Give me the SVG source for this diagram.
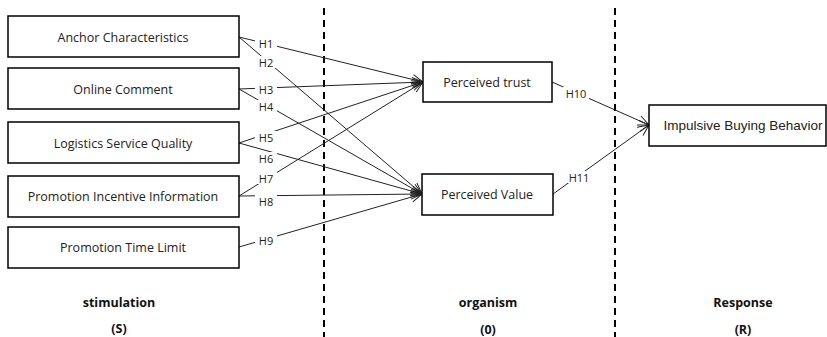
<svg xmlns="http://www.w3.org/2000/svg" width="827" height="337" viewBox="0 0 827 337">
<style>
.box{fill:#fff;stroke:#000;stroke-width:1.5}
.t{font-family:"Open Sans","Liberation Sans",sans-serif;font-size:12.5px;fill:#222;text-anchor:middle;dominant-baseline:central}
.ta{font-family:"Liberation Sans",Arial,sans-serif;font-size:13.5px;fill:#222;text-anchor:middle;dominant-baseline:central}
.h{font-family:"Open Sans","Liberation Sans",sans-serif;font-size:11px;fill:#222;text-anchor:middle;dominant-baseline:central}
.b{font-family:"Open Sans","Liberation Sans",sans-serif;font-size:12.5px;font-weight:bold;fill:#111;text-anchor:middle;dominant-baseline:central}
.c{stroke:#222;stroke-width:1;fill:none;marker-end:url(#arr)}
.d{stroke:#000;stroke-width:2;stroke-dasharray:7 5}
.lb{fill:#fff}
</style>
<defs>
<marker id="arr" markerUnits="userSpaceOnUse" markerWidth="14" markerHeight="14" refX="12" refY="7" orient="auto">
<path d="M1,2 L12,7 L1,12 M1,7 L12,7" fill="none" stroke="#222" stroke-width="1"/>
</marker>
</defs>
<g id="dividers">
<line class="d" x1="324" y1="8" x2="324" y2="337"/>
<line class="d" x1="615" y1="8" x2="615" y2="337"/>
</g>
<g id="connectors">
<line class="c" x1="239" y1="37" x2="423" y2="82"/>
<line class="c" x1="239" y1="37" x2="422" y2="194"/>
<line class="c" x1="239" y1="89" x2="423" y2="82"/>
<line class="c" x1="239" y1="89" x2="422" y2="194"/>
<line class="c" x1="239" y1="143" x2="423" y2="82"/>
<line class="c" x1="239" y1="143" x2="422" y2="194"/>
<line class="c" x1="239" y1="196" x2="423" y2="82"/>
<line class="c" x1="239" y1="196" x2="422" y2="194"/>
<line class="c" x1="239" y1="247" x2="422" y2="194"/>
<line class="c" x1="552" y1="82" x2="649" y2="125"/>
<line class="c" x1="553" y1="194" x2="649" y2="125"/>
<g id="labels">
<rect class="lb" x="255" y="37" width="22" height="12"/><text class="h" x="266" y="43">H1</text>
<rect class="lb" x="255" y="56" width="22" height="12"/><text class="h" x="266" y="62">H2</text>
<rect class="lb" x="255" y="83" width="22" height="12"/><text class="h" x="266" y="89">H3</text>
<rect class="lb" x="255" y="100" width="22" height="12"/><text class="h" x="266" y="106">H4</text>
<rect class="lb" x="255" y="131" width="22" height="12"/><text class="h" x="266" y="137">H5</text>
<rect class="lb" x="255" y="152" width="22" height="12"/><text class="h" x="266" y="158">H6</text>
<rect class="lb" x="255" y="172" width="22" height="12"/><text class="h" x="266" y="178">H7</text>
<rect class="lb" x="255" y="195" width="22" height="12"/><text class="h" x="266" y="201">H8</text>
<rect class="lb" x="255" y="234" width="22" height="12"/><text class="h" x="266" y="240">H9</text>
<rect class="lb" x="563" y="87" width="26" height="12"/><text class="h" x="576" y="93">H10</text>
<rect class="lb" x="566" y="171" width="26" height="12"/><text class="h" x="579" y="177">H11</text>
</g>
</g>
<g id="n1"><rect class="box" x="8" y="16" width="231" height="41"/><text class="t" x="123" y="37">Anchor Characteristics</text></g>
<g id="n2"><rect class="box" x="8" y="68" width="231" height="41"/><text class="t" x="123" y="89">Online Comment</text></g>
<g id="n3"><rect class="box" x="8" y="122" width="231" height="41"/><text class="t" x="123" y="143">Logistics Service Quality</text></g>
<g id="n4"><rect class="box" x="8" y="176" width="231" height="41"/><text class="t" x="123" y="196">Promotion Incentive Information</text></g>
<g id="n5"><rect class="box" x="8" y="227" width="231" height="41"/><text class="t" x="123" y="247">Promotion Time Limit</text></g>
<g id="n6"><rect class="box" x="423" y="62" width="129" height="40"/><text class="t" x="487" y="82">Perceived trust</text></g>
<g id="n7"><rect class="box" x="422" y="174" width="131" height="41"/><text class="t" x="487" y="194">Perceived Value</text></g>
<g id="n8"><rect class="box" x="649" y="105" width="177" height="41"/><text class="ta" x="743" y="125">Impulsive Buying Behavior</text></g>
<g id="stages">
<text class="b" x="119" y="302">stimulation</text>
<text class="b" x="119" y="328">(S)</text>
<text class="b" x="488" y="302">organism</text>
<text class="b" x="488" y="329">(0)</text>
<text class="b" x="743" y="302">Response</text>
<text class="b" x="743" y="329">(R)</text>
</g>
</svg>
